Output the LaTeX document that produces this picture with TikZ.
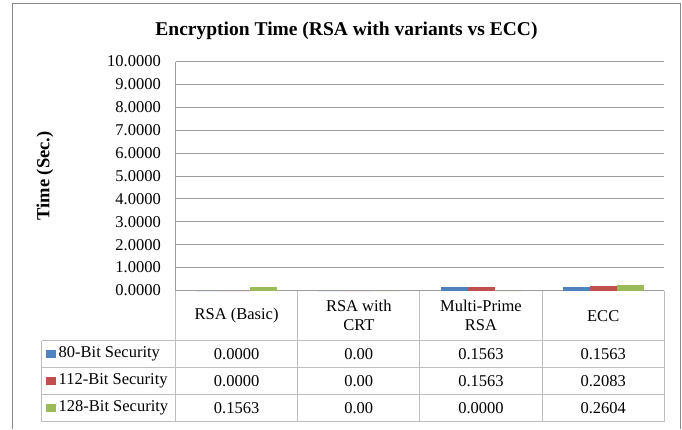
\documentclass[tikz,border=0pt]{standalone}
\usepackage{fontspec}
\setmainfont{Liberation Serif}
\definecolor{ser80}{HTML}{4F81BD}
\definecolor{ser112}{HTML}{C0504D}
\definecolor{ser128}{HTML}{9BBB59}
\definecolor{gridgray}{HTML}{9C9C9C}
\definecolor{tablegray}{HTML}{BDBDBD}
\definecolor{framegray}{HTML}{8C8C8C}
\tikzstyle{cell}=[font=\fontsize{16.5}{19}\selectfont,inner sep=0pt]
\tikzstyle{tick}=[cell,anchor=east]
\tikzstyle{heading}=[font=\fontsize{19.5}{22}\bfseries,inner sep=0pt]
\tikzstyle{gridline}=[draw=gridgray,line width=0.9pt]
\tikzstyle{tableline}=[draw=tablegray,line width=0.9pt]

\begin{document}
\begin{tikzpicture}[x=1pt,y=-1pt]
    \useasboundingbox (0,0) rectangle (682,429);
    \draw[framegray,line width=0.9pt] (12.5,429) -- (12.5,3) -- (680.5,3) -- (680.5,429);
    \node[heading,anchor=base] (title) at (346.5,35) {Encryption Time (RSA with variants vs ECC)};
    \node[heading,font=\fontsize{18.5}{22}\bfseries,rotate=90] (ylab) at (45,176) {Time (Sec.)};

    % value axis: grid lines and labels, 22.9 units per second
    \foreach \v in {0,...,10} {
        \draw[gridline] (175.5,{290.5-22.9*\v}) -- (664,{290.5-22.9*\v});
        \node[tick] (tick\v) at (161,{290.5-22.9*\v}) {\v.0000};
    }
    \draw[gridline] (175.5,61.5) -- (175.5,290.5);

    % data table under the plot
    \foreach \x in {175.5,297.7,419.9,542.1,664.3}
        \draw[tableline] (\x,290.5) -- (\x,421.5);
    \draw[tableline] (41.7,340.5) -- (41.7,421.5);
    \foreach \y in {340.5,367.5,394.5,421.5}
        \draw[tableline] (41.7,\y) -- (664.3,\y);
    \foreach \i/\txt in {1/RSA (Basic),2/RSA with\\CRT,3/Multi-Prime\\RSA,4/ECC}
        \node[cell,align=center] (head\i) at ({175.5+122.2*(\i-0.5)},315.8) {\txt};

    % one series per row: legend key, bars and values
    \foreach \row/\ser/\off/\name/\a/\b/\c/\d in {
        1/ser80/-40.5/80-Bit Security/0.0000/0.00/0.1563/0.1563,
        2/ser112/-13.5/112-Bit Security/0.0000/0.00/0.1563/0.2083,
        3/ser128/13.5/128-Bit Security/0.1563/0.00/0.0000/0.2604} {
        \fill[\ser] (46,{340.5+27*\row-18}) rectangle (56,{340.5+27*\row-9.5});
        \node[cell,anchor=west] (key\row) at (58.5,{340.5+27*(\row-0.5)}) {\name};
        \foreach \val [count=\i] in {\a,\b,\c,\d} {
            \fill[\ser] ({175.5+122.2*(\i-0.5)+\off},290.5) rectangle
                ({175.5+122.2*(\i-0.5)+\off+27},{290.5-22.9*\val});
            \node[cell] (val\row\i) at ({175.5+122.2*(\i-0.5)},{340.5+27*(\row-0.5)}) {\val};
        }
    }
\end{tikzpicture}
\end{document}
